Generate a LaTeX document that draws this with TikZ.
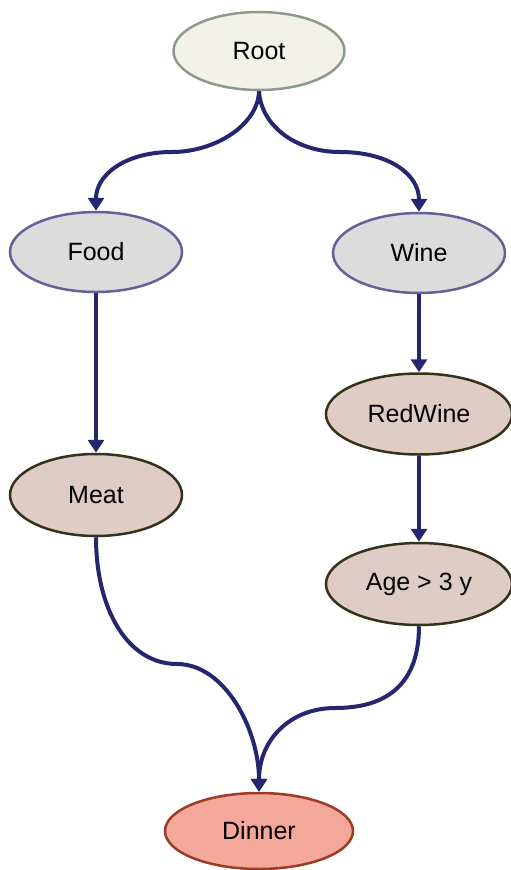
\documentclass[tikz,border=0pt]{standalone}
\usepackage{fontspec}
\setmainfont{Liberation Sans}
\usetikzlibrary{shapes.geometric,arrows.meta}
\definecolor{edgeblue}{HTML}{262670}
\definecolor{rootfill}{HTML}{F2F2EA}
\definecolor{rootline}{HTML}{8C9C8C}
\definecolor{greyfill}{HTML}{DCDCDC}
\definecolor{greyline}{HTML}{62629A}
\definecolor{tanfill}{HTML}{DFCCC5}
\definecolor{tanline}{HTML}{33331A}
\definecolor{goalfill}{HTML}{F4A89A}
\definecolor{goalline}{HTML}{9E3A26}
\tikzset{
  concept/.style={ellipse, inner sep=0pt, line width=2.5pt,
    font=\fontsize{25}{30}\selectfont, text=black},
  rootnode/.style={concept, draw=rootline, fill=rootfill},
  topic/.style={concept, draw=greyline, fill=greyfill},
  refine/.style={concept, draw=tanline, fill=tanfill},
  goal/.style={concept, draw=goalline, fill=goalfill},
  link/.style={draw=edgeblue, line width=4pt,
    -{Triangle[length=13pt,width=16pt]}},
}
\begin{document}
\begin{tikzpicture}[x=1pt,y=-1pt]
  \useasboundingbox (0,0) rectangle (511,870);

  % concept nodes
  \node[rootnode, minimum width=171pt, minimum height=78pt] (root) at (259,51) {Root};
  \node[topic, minimum width=172pt, minimum height=80pt] (food) at (96,252) {Food};
  \node[topic, minimum width=172pt, minimum height=80pt] (wine) at (419,253) {Wine};
  \node[refine, minimum width=186pt, minimum height=81pt] (red) at (419,414) {RedWine};
  \node[refine, minimum width=172pt, minimum height=82pt] (meat) at (96,495) {Meat};
  \node[refine, minimum width=186pt, minimum height=82pt] (age) at (419,584) {Age > 3 y};
  \node[goal, minimum width=188pt, minimum height=76pt] (dinner) at (259,831) {Dinner};

  % bend points of the curved links
  \coordinate (rf) at (172,152);
  \coordinate (rw) at (340,152);
  \coordinate (md) at (177,664);
  \coordinate (ad) at (335,708);

  % links
  \draw[link] (root.south) .. controls (258,125) and (215,152) .. (rf)
              .. controls (125,152) and (96,175) .. (food.north);
  \draw[link] (root.south) .. controls (261,125) and (295,152) .. (rw)
              .. controls (390,152) and (419,175) .. (wine.north);
  \draw[link] (food.south) -- (meat.north);
  \draw[link] (wine.south) -- (red.north);
  \draw[link] (red.south) -- (age.north);
  \draw[link] (meat.south) .. controls (96,610) and (128,664) .. (md)
              .. controls (225,664) and (259,730) .. (dinner.north);
  \draw[link] (age.south) .. controls (419,690) and (380,708) .. (ad)
              .. controls (290,708) and (259,740) .. (dinner.north);
\end{tikzpicture}
\end{document}
